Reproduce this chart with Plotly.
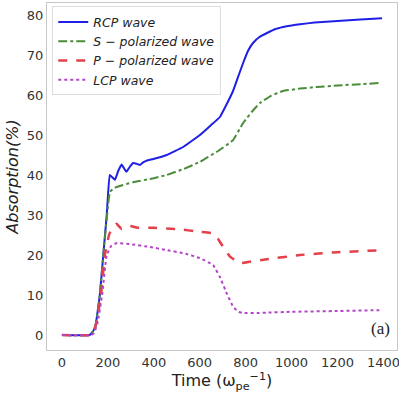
import plotly.graph_objects as go

# RCP wave
t_rcp = [0, 120, 130, 145, 165, 180, 195, 208, 218, 231, 245, 260, 272, 281, 295, 310, 325, 340, 355, 369, 398,
         456, 528, 601, 650, 688, 720, 745, 770, 789, 810, 832, 860, 893, 930, 963, 1000, 1037, 1100, 1200, 1300, 1394]
v_rcp = [0, 0, 0.5, 2, 10, 20, 30, 40, 39.5, 38.8, 41, 42.6, 41.5, 40.8, 42, 43, 42.8, 42.5, 43.2, 43.6, 44,
         45, 47, 50, 52.5, 54.5, 58, 61, 65, 68, 71, 73, 74.5, 75.5, 76.5, 77, 77.4, 77.7, 78.1, 78.5, 78.9, 79.2]

# S-polarized wave
t_s = [0, 120, 130, 145, 165, 180, 195, 209, 230, 266, 310, 400, 456, 530, 601, 680, 745, 789, 830, 862, 910,
       963, 1037, 1110, 1200, 1300, 1385]
v_s = [0, 0, 0.5, 2, 10, 20, 29, 35.8, 36.8, 37.5, 38.2, 39.2, 40, 41.5, 43.3, 46, 48.7, 53, 56, 58, 59.8,
       61, 61.6, 62, 62.4, 62.7, 63]

# P-polarized wave
t_p = [0, 125, 135, 150, 170, 187, 205, 220, 238, 260, 290, 330, 400, 500, 601, 658, 680, 702, 732, 760, 783,
       818, 900, 1037, 1200, 1393]
v_p = [0, 0, 0.5, 3, 10, 20, 25, 27, 27.8, 26.5, 27.3, 26.8, 26.8, 26.5, 25.8, 25.4, 24, 22, 19.6, 18.5, 18,
       18.3, 19, 20, 20.7, 21.2]

# LCP wave
t_lcp = [0, 128, 140, 155, 175, 195, 215, 240, 300, 383, 450, 540, 601, 658, 688, 717, 746, 770, 790, 850, 892,
         1000, 1200, 1382]
v_lcp = [0, 0, 0.5, 3, 10, 20, 22.3, 23, 22.7, 22, 21.3, 20.3, 19.2, 17.5, 14.5, 10.5, 7, 5.8, 5.5, 5.5, 5.6,
         5.8, 6.0, 6.2]

x_ticks = [0, 200, 400, 600, 800, 1000, 1200, 1400]
y_ticks = [0, 10, 20, 30, 40, 50, 60, 70, 80]

fig = go.Figure()
fig.add_trace(go.Scatter(x=t_rcp, y=v_rcp, mode="lines", name="<i>RCP wave</i>",
                         line=dict(color="#1f1fe6", width=2, shape="spline", smoothing=0.3)))
fig.add_trace(go.Scatter(x=t_s, y=v_s, mode="lines", name="<i>S − polarized wave</i>",
                         line=dict(color="#4a8c3a", width=2, dash="dashdot", shape="spline", smoothing=0.3)))
fig.add_trace(go.Scatter(x=t_p, y=v_p, mode="lines", name="<i>P − polarized wave</i>",
                         line=dict(color="#e2404a", width=2.5, dash="dash", shape="spline", smoothing=0.3)))
fig.add_trace(go.Scatter(x=t_lcp, y=v_lcp, mode="lines", name="<i>LCP wave</i>",
                         line=dict(color="#b545c8", width=2, dash="dot", shape="spline", smoothing=0.3)))

axis_common = dict(showline=True, mirror=True, linecolor="#c8c8c8", linewidth=1,
                   showgrid=False, zeroline=False, ticks="", ticklabeloverflow="allow",
                   tickfont=dict(family="DejaVu Sans", size=13, color="#333333"))

fig.update_layout(
    width=399, height=394,
    margin=dict(l=47, r=2, t=3, b=44, autoexpand=False),
    paper_bgcolor="white", plot_bgcolor="white",
    showlegend=True,
    legend=dict(x=0.015, y=0.99, xanchor="left", yanchor="top",
                bordercolor="#dddddd", borderwidth=1, bgcolor="rgba(255,255,255,0.9)",
                font=dict(family="DejaVu Sans", size=12.5, color="#222222"),
                itemwidth=30, tracegroupgap=0),
    xaxis=dict(range=[-65, 1459], tickvals=x_ticks, **axis_common,
               title=dict(text="Time (ω<sub>pe</sub><sup>−1</sup>)",
                          font=dict(family="DejaVu Sans", size=16, color="#222222"), standoff=2)),
    yaxis=dict(range=[-3.75, 83], tickvals=y_ticks, **axis_common,
               title=dict(text="<i>Absorption(%)</i>",
                          font=dict(family="DejaVu Sans", size=16, color="#222222"), standoff=4)),
    annotations=[dict(text="(a)", x=0.985, y=0.03, xref="paper", yref="paper",
                      xanchor="right", yanchor="bottom", showarrow=False,
                      font=dict(family="Liberation Serif", size=17, color="#222222"))],
)

fig.write_html("out.html", config={"displayModeBar": False},
               post_script="document.body.style.margin='0';")
